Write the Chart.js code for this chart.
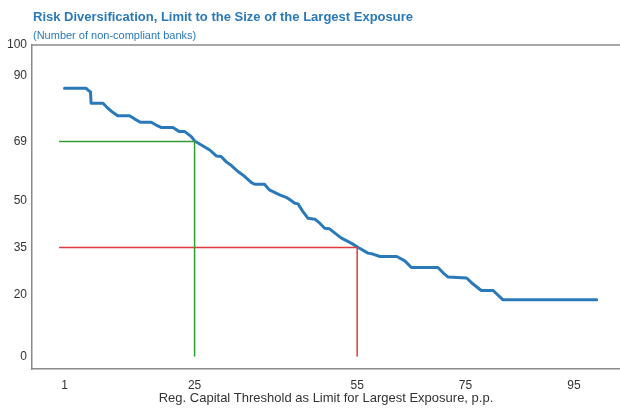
<!DOCTYPE html>
<html>
<head>
<meta charset="utf-8">
<script src="https://cdn.jsdelivr.net/npm/chart.js@4/dist/chart.umd.min.js"></script>
<style>
  html, body { margin: 0; padding: 0; background: #ffffff; }
  #wrap { position: relative; width: 620px; height: 409px; overflow: hidden; }
  #title { position: absolute; left: 33px; top: 10px; font: bold 13px/13px "Liberation Sans", Arial, sans-serif; color: #2a7ab9; white-space: nowrap; }
  #subtitle { position: absolute; left: 33px; top: 30px; font: 11px/11px "Liberation Sans", Arial, sans-serif; color: #2a7ab9; white-space: nowrap; }
  canvas { position: absolute; left: 0; top: 0; }
</style>
</head>
<body>
<div id="wrap">
  <canvas id="c" width="620" height="409"></canvas>
  <div id="title">Risk Diversification, Limit to the Size of the Largest Exposure</div>
  <div id="subtitle">(Number of non-compliant banks)</div>
</div>
<script>
// Regulatory capital threshold (p.p.) at the curve's vertices
const thresholds = [1, 5.0, 5.3, 5.8, 5.9, 8.1, 9.0, 9.9, 10.8, 13.0, 13.9, 15.0, 17.0, 17.9, 18.9, 21.0, 22.2, 23.2, 24.4, 25.0,
  27.8, 29.0, 29.9, 30.9, 31.8, 33.0, 33.9, 35.5, 36.1, 37.9, 38.8, 40.7, 41.9, 42.6, 43.5, 44.1, 45.0, 45.9, 47.2, 48.1,
  49.0, 49.9, 50.9, 52.1, 53.9, 55.2, 57.0, 57.9, 59.2, 62.3, 63.8, 65.0, 69.9, 70.9, 71.8, 75.2, 76.1, 77.9, 80.1, 81.9, 99.2];
// Number of non-compliant banks
const banks = [86.1, 86.1, 85.6, 84.9, 81.3, 81.3, 79.7, 78.4, 77.3, 77.3, 76.3, 75.2, 75.2, 74.3, 73.5, 73.5, 72.2, 72.2, 70.6, 69.2,
  66.3, 64.4, 64.2, 62.4, 61.3, 59.4, 58.3, 55.8, 55.3, 55.3, 53.5, 51.9, 51.1, 50.3, 49.2, 49.0, 46.5, 44.4, 44.1, 42.8,
  41.2, 41.0, 39.6, 38.0, 36.4, 35.0, 33.2, 32.9, 32.1, 32.1, 30.7, 28.6, 28.6, 26.8, 25.5, 25.2, 23.7, 21.2, 21.2, 18.2, 18.2];
// Reference guides
const guide25X = [0, 25, 25];
const guide25Y = [69, 69, 0];
const guide55X = [0, 55, 55];
const guide55Y = [35, 35, 0];
// Tick labels
const xTicks = [1, 25, 55, 75, 95];
const yTicks = [0, 20, 35, 50, 69, 90, 100];

const toPts = (xs, ys) => xs.map((x, i) => ({ x: x, y: ys[i] }));

const topBorder = {
  id: 'topBorder',
  afterDraw(chart) {
    const { ctx, chartArea } = chart;
    ctx.save();
    ctx.strokeStyle = '#8a8a8a';
    ctx.lineWidth = 1.5;
    ctx.beginPath();
    ctx.moveTo(chartArea.left, chartArea.top);
    ctx.lineTo(chartArea.right + 5, chartArea.top);
    ctx.stroke();
    ctx.restore();
  }
};

new Chart(document.getElementById('c'), {
  type: 'line',
  data: {
    datasets: [
      { data: toPts(guide25X, guide25Y), borderColor: '#349a34', borderWidth: 1.5, pointRadius: 0, tension: 0, fill: false },
      { data: toPts(guide55X, guide55Y), borderColor: '#e03a3c', borderWidth: 1.5, pointRadius: 0, tension: 0, fill: false },
      { data: toPts(thresholds, banks), borderColor: '#2a7ab9', borderWidth: 3, pointRadius: 0, tension: 0, fill: false, borderJoinStyle: 'round', borderCapStyle: 'round' }
    ]
  },
  options: {
    responsive: false,
    animation: false,
    devicePixelRatio: 1,
    layout: { padding: { top: 45, right: 0, left: 0, bottom: 0 } },
    plugins: { legend: { display: false }, tooltip: { enabled: false }, title: { display: false } },
    scales: {
      x: {
        type: 'linear',
        min: -5,
        max: 103.5,
        grid: { display: false, drawTicks: false },
        border: { display: true, color: '#8a8a8a', width: 1.5 },
        afterBuildTicks: (s) => { s.ticks = xTicks.map(v => ({ value: v })); },
        afterFit: (s) => { s.height = 40; },
        ticks: { autoSkip: false, maxRotation: 0, padding: 9, color: '#333333', font: { family: 'Liberation Sans', size: 12 } },
        title: { display: true, text: 'Reg. Capital Threshold as Limit for Largest Exposure, p.p.', color: '#333333', font: { family: 'Liberation Sans', size: 13 }, padding: { top: 0, bottom: 3 } }
      },
      y: {
        type: 'linear',
        min: -4,
        max: 100,
        grid: { display: false, drawTicks: false },
        border: { display: true, color: '#8a8a8a', width: 1.5 },
        afterBuildTicks: (s) => { s.ticks = yTicks.map(v => ({ value: v })); },
        afterFit: (s) => { s.width = 32; },
        ticks: { autoSkip: false, padding: 5, color: '#333333', font: { family: 'Liberation Sans', size: 12 } }
      }
    }
  },
  plugins: [topBorder]
});
</script>
</body>
</html>
